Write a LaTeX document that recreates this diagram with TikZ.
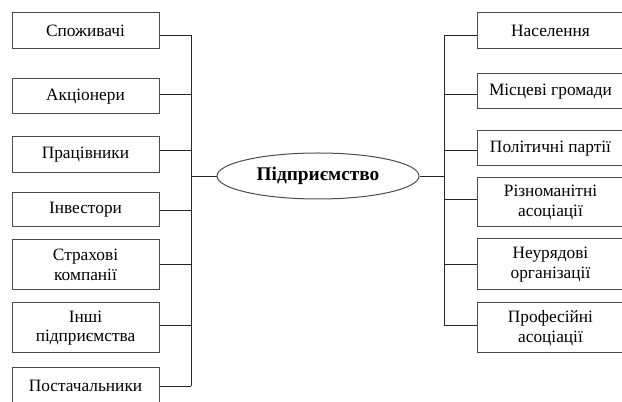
\documentclass[tikz,border=0pt]{standalone}
\usepackage{fontspec}
\setmainfont{Liberation Serif}
\usetikzlibrary{shapes.geometric}
\begin{document}
\begin{tikzpicture}[x=0.75pt,y=-0.75pt,
  box/.style={draw=black!70,line width=0.75pt,minimum width=147*0.75pt,inner sep=0pt,align=center,
    font=\fontsize{13}{14.5}\selectfont,text=black},
  rbox/.style={box,minimum width=147*0.75pt},
  conn/.style={draw=black!85,line width=0.7pt}]
\useasboundingbox (0,0) rectangle (622,402);
\clip (0,0) rectangle (622,402);
% left boxes
\node[box,minimum height=36*0.75pt] (l1) at (85.5,31) {Споживачі};
\node[box,minimum height=35*0.75pt] (l2) at (85.5,96.5) {Акціонери};
\node[box,minimum height=36*0.75pt] (l3) at (85.5,155) {Працівники};
\node[box,minimum height=34*0.75pt] (l4) at (85.5,210) {Інвестори};
\node[box,minimum height=50*0.75pt] (l5) at (85.5,265) {Страхові\\компанії};
\node[box,minimum height=50*0.75pt] (l6) at (85.5,328) {Інші\\підприємства};
\node[box,minimum height=36*0.75pt] (l7) at (85.5,386) {Постачальники};
% right boxes
\node[rbox,minimum height=36*0.75pt] (r1) at (550.5,31) {Населення};
\node[rbox,minimum height=35*0.75pt] (r2) at (550.5,91.5) {Місцеві громади};
\node[rbox,minimum height=35*0.75pt] (r3) at (550.5,148.5) {Політичні партії};
\node[rbox,minimum height=49*0.75pt] (r4) at (550.5,202.5) {Різноманітні\\асоціації};
\node[rbox,minimum height=51*0.75pt] (r5) at (550.5,264.5) {Неурядові\\організації};
\node[rbox,minimum height=50*0.75pt] (r6) at (550.5,328) {Професійні\\асоціації};
% centre
\node[ellipse,draw=black!70,line width=0.75pt,minimum width=202*0.75pt,minimum height=46*0.75pt,inner sep=0pt,
  font=\fontsize{14.5}{16}\selectfont\bfseries] (e) at (318,176) {Підприємство};
% bus coordinates
\coordinate (bl1) at (191,35);
\coordinate (bl2) at (191,94);
\coordinate (bl3) at (191,150);
\coordinate (bl4) at (191,210);
\coordinate (bl5) at (191,264);
\coordinate (bl6) at (191,325);
\coordinate (bl7) at (191,386);
\coordinate (ble) at (191,176);
\coordinate (br1) at (444,35);
\coordinate (br2) at (444,94);
\coordinate (br3) at (444,150);
\coordinate (br4) at (444,199);
\coordinate (br5) at (444,264);
\coordinate (br6) at (444,325);
\coordinate (bre) at (444,176);
% connectors
\draw[conn] (bl1) -- (bl7);
\draw[conn] (br1) -- (br6);
\foreach \i in {1,...,7} {\draw[conn] (bl\i -| l\i.east) -- (bl\i);}
\foreach \i in {1,...,6} {\draw[conn] (br\i -| r\i.west) -- (br\i);}
\draw[conn] (ble) -- (e.west);
\draw[conn] (e.east) -- (bre);
\end{tikzpicture}
\end{document}
